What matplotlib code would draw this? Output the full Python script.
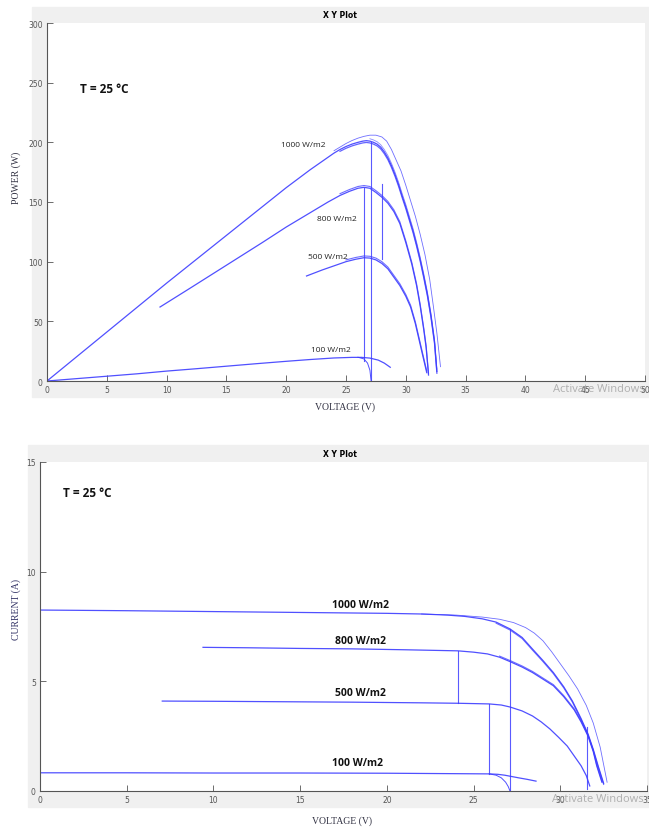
import matplotlib
matplotlib.use("Agg")
import matplotlib.pyplot as plt
import matplotlib.patches as patches

# ---- P-V data (voltage V, power W) ----
v_p1000 = [0, 5, 10, 15, 18, 20, 22, 24, 24.5, 25, 25.5, 26, 26.4, 26.7, 27.0, 27.3, 27.6, 27.9,
           28.2, 28.5, 28.8, 29.1, 29.4, 29.7, 30.0, 30.3, 30.6, 30.9, 31.2, 31.5, 31.8, 32.1, 32.4, 32.6]
p_p1000 = [0, 41, 82, 122, 146, 162, 177, 191, 194, 196.5, 198.5, 200, 201, 201.4, 201, 200, 198.5, 196,
           192, 187, 180.5, 173, 164.5, 155, 146, 136, 126, 114.5, 102, 88, 73, 55, 33, 8]
v_p1000_b = [24, 24.5, 25, 25.5, 26, 26.5, 27, 27.5, 28, 28.4, 28.8, 29.2, 29.6, 30.0, 30.4, 30.8,
             31.2, 31.6, 32.0, 32.3, 32.6, 32.9]
p_p1000_b = [193, 196, 199, 201.5, 203.5, 205, 206, 206, 204.5, 201, 194, 185, 176, 164, 151, 138,
             123, 106, 85, 63, 40, 12]
v_p800 = [9.45, 12, 15, 18, 20, 22, 23.5, 24.5, 25.3, 26, 26.5, 27, 27.5, 28, 28.5, 29, 29.5, 30,
          30.5, 30.9, 31.2, 31.5, 31.7, 31.9]
p_p800 = [62, 78, 97, 116, 129, 141, 150, 155.5, 159, 161.5, 162.3, 161.5, 158, 154, 149, 142, 132, 116,
          98, 80, 63, 43, 28, 5]
v_p500 = [21.7, 23, 24, 25, 25.8, 26.5, 27, 27.5, 28, 28.5, 29, 29.5, 30, 30.4, 30.8, 31.1, 31.4, 31.75]
p_p500 = [88, 93, 96.5, 100, 102, 103.3, 103, 101.5, 98.5, 94, 87, 80, 71, 62, 48, 35, 22, 7]
v_p100 = [0, 2.5, 5, 7.5, 10, 12.5, 15, 17.5, 20, 22, 24, 25.5, 26.3, 27, 27.7, 28.2, 28.7]
p_p100 = [0, 2, 4, 6, 8.3, 10.3, 12.4, 14.5, 16.5, 18, 19.3, 19.8, 19.8, 19.2, 17.5, 15, 11.5]
v_p100_b = [26.0, 26.5, 26.8, 27.0, 27.1]
p_p100_b = [19.9, 18.5, 15, 9, 0]
# vertical switching traces: (V, P_top, P_bottom)
p_jumps = [(27.1, 200, 0), (26.5, 162, 17), (28.0, 165, 102)]

# ---- I-V data (voltage V, current A) ----
v_i1000 = [0, 5, 10, 15, 20, 22, 23.5, 24.5, 25.5, 26.3, 27.1, 27.8, 28.4, 29.0, 29.6, 30.2, 30.7,
           31.2, 31.6, 31.9, 32.2, 32.5]
i_i1000 = [8.25, 8.22, 8.18, 8.14, 8.1, 8.07, 8.02, 7.96, 7.85, 7.7, 7.39, 7.0, 6.47, 5.95, 5.4, 4.75, 4.1,
           3.3, 2.6, 1.9, 1.1, 0.35]
v_i1000_b = [22, 24, 25.5, 26.5, 27.3, 28.0, 28.5, 29.0, 29.5, 30.0, 30.5, 31.0, 31.5, 31.9, 32.3, 32.7]
i_i1000_b = [8.07, 8.02, 7.93, 7.83, 7.68, 7.45, 7.2, 6.85, 6.35, 5.8, 5.25, 4.65, 3.9, 3.1, 2.0, 0.4]
v_i800 = [9.4, 12, 15, 18, 21, 24.1, 25, 25.8, 26.5, 27.1, 27.8, 28.4, 29.0, 29.6, 30.2, 30.8, 31.2,
          31.6, 31.9, 32.1, 32.4]
i_i800 = [6.55, 6.53, 6.5, 6.48, 6.44, 6.39, 6.33, 6.25, 6.1, 5.9, 5.65, 5.4, 5.1, 4.8, 4.3, 3.7, 3.15,
          2.5, 1.8, 1.15, 0.4]
v_i500 = [7.05, 10, 14, 18, 22, 24.1, 25.9, 26.6, 27.1, 27.8, 28.4, 28.9, 29.4, 29.9, 30.4, 30.8, 31.2,
          31.5, 31.7]
i_i500 = [4.1, 4.09, 4.07, 4.05, 4.02, 4.0, 3.97, 3.92, 3.83, 3.65, 3.42, 3.15, 2.83, 2.45, 2.05, 1.6, 1.15,
          0.7, 0.23]
v_i100 = [0, 5, 10, 15, 20, 24, 25.9, 26.4, 26.8, 27.2, 27.6, 28.1, 28.6]
i_i100 = [0.83, 0.83, 0.82, 0.82, 0.81, 0.79, 0.78, 0.76, 0.72, 0.66, 0.6, 0.53, 0.45]
v_i100_b = [25.9, 26.3, 26.6, 26.85, 27.0, 27.1]
i_i100_b = [0.78, 0.72, 0.6, 0.4, 0.2, 0.0]
i_jumps = [(27.1, 7.39, 0), (24.1, 6.39, 4.0), (25.9, 3.97, 0.78), (31.55, 2.9, 0.1)]

irradiance = ["1000 W/m2", "800 W/m2", "500 W/m2", "100 W/m2"]
p_label_pos = [(21.4, 198), (24.2, 136), (23.5, 104), (23.7, 26)]
i_label_pos = [(18.5, 8.5), (18.5, 6.85), (18.5, 4.5), (18.3, 1.3)]

BLUE = (0.24, 0.24, 1.0)
GRAY_BG = "#f0f0f0"
TXT = ["Open Sans", "DejaVu Sans"]

fig = plt.figure(figsize=(6.49, 8.28), dpi=100)
W, H = 649.0, 828.0


def fx(px):
    return px / W


def fy(py):
    return 1 - py / H


# grey panels behind the plots (MATLAB scope look)
for (x0, y0, x1, y1) in [(32, 8, 649, 398), (28, 446, 649, 808)]:
    fig.add_artist(patches.Rectangle((fx(x0), fy(y1)), fx(x1 - x0), (y1 - y0) / H,
                                     transform=fig.transFigure, color=GRAY_BG, zorder=0))

fig.text(fx(340), fy(15), "X Y Plot", ha="center", va="center", fontsize=5.5, fontweight="bold")
fig.text(fx(340), fy(455), "X Y Plot", ha="center", va="center", fontsize=5.5, fontweight="bold")

# axis titles placed in figure pixels
serif = dict(family="Liberation Serif", fontsize=7, color="#333344")
fig.text(fx(345), fy(407), "VOLTAGE (V)", ha="center", va="center", **serif)
fig.text(fx(342), fy(821), "VOLTAGE (V)", ha="center", va="center", **serif)
fig.text(fx(16), fy(178), "POWER (W)", ha="center", va="center", rotation=90, **serif)
fig.text(fx(16), fy(610), "CURRENT (A)", ha="center", va="center", rotation=90,
         family="Liberation Serif", fontsize=7, color="#333366")

ax1 = fig.add_axes([fx(47), fy(382), fx(645 - 47), (382 - 24) / H])
ax2 = fig.add_axes([fx(40), fy(792), fx(647 - 40), (792 - 463) / H])


def style(ax):
    for s in ["top", "right"]:
        ax.spines[s].set_visible(False)
    for s in ["left", "bottom"]:
        ax.spines[s].set_color("#555555")
        ax.spines[s].set_linewidth(0.8)
    ax.tick_params(direction="in", length=4, width=0.6, color="#555555",
                   labelsize=5.5, labelcolor="#555555", pad=3)
    ax.set_facecolor("white")


# ---- power plot ----
ax1.plot(v_p1000, p_p1000, color=BLUE, lw=0.9, alpha=0.9)
ax1.plot(v_p1000[8:], [p - 1.5 for p in p_p1000[8:]], color=BLUE, lw=0.9, alpha=0.8)
ax1.plot(v_p1000[14:], [p + 2 for p in p_p1000[14:]], color=BLUE, lw=0.6, alpha=0.6)
ax1.plot(v_p1000_b, p_p1000_b, color=BLUE, lw=0.6, alpha=0.75)
ax1.plot(v_p800, p_p800, color=BLUE, lw=0.9, alpha=0.9)
ax1.plot(v_p800[7:], [p + 1.5 for p in p_p800[7:]], color=BLUE, lw=0.8, alpha=0.75)
ax1.plot(v_p500, p_p500, color=BLUE, lw=0.9, alpha=0.9)
ax1.plot(v_p500[3:], [p + 1.5 for p in p_p500[3:]], color=BLUE, lw=0.8, alpha=0.75)
ax1.plot(v_p100, p_p100, color=BLUE, lw=0.9, alpha=0.9)
ax1.plot(v_p100_b, p_p100_b, color=BLUE, lw=0.7, alpha=0.9)
for v, top, bot in p_jumps:
    ax1.plot([v, v], [top, bot], color=BLUE, lw=0.8, alpha=0.85)

for lab, (x, y) in zip(irradiance, p_label_pos):
    ax1.text(x, y, lab, ha="center", va="center", fontsize=6, color="#222222", family=TXT)
ax1.text(2.8, 245, "T = 25 °C", ha="left", va="center", fontsize=8.5,
         fontweight="bold", color="#111111", family=TXT)

ax1.set_xlim(0, 50)
ax1.set_ylim(0, 300)
ax1.set_xticks(range(0, 51, 5))
ax1.set_yticks(range(0, 301, 50))
style(ax1)
ax1.text(1.0, -0.022, "Activate Windows", transform=ax1.transAxes, ha="right", va="center",
         fontsize=8, color="#a0a0a0", alpha=0.8, family=TXT)

# ---- current plot ----
ax2.plot(v_i1000, i_i1000, color=BLUE, lw=0.9, alpha=0.9)
ax2.plot(v_i1000[9:], [c - 0.05 for c in i_i1000[9:]], color=BLUE, lw=0.8, alpha=0.75)
ax2.plot(v_i1000_b, i_i1000_b, color=BLUE, lw=0.6, alpha=0.75)
ax2.plot(v_i800, i_i800, color=BLUE, lw=0.9, alpha=0.9)
ax2.plot(v_i800[8:], [c + 0.05 for c in i_i800[8:]], color=BLUE, lw=0.8, alpha=0.75)
ax2.plot(v_i500, i_i500, color=BLUE, lw=0.9, alpha=0.9)
ax2.plot(v_i100, i_i100, color=BLUE, lw=0.9, alpha=0.9)
ax2.plot(v_i100_b, i_i100_b, color=BLUE, lw=0.7, alpha=0.9)
for v, top, bot in i_jumps:
    ax2.plot([v, v], [top, bot], color=BLUE, lw=0.8, alpha=0.85)

for lab, (x, y) in zip(irradiance, i_label_pos):
    ax2.text(x, y, lab, ha="center", va="center", fontsize=7.5, fontweight="bold",
             color="#111111", family=TXT)
ax2.text(1.33, 13.6, "T = 25 °C", ha="left", va="center", fontsize=8.5,
         fontweight="bold", color="#111111", family=TXT)

ax2.set_xlim(0, 35)
ax2.set_ylim(0, 15)
ax2.set_xticks(range(0, 36, 5))
ax2.set_yticks(range(0, 16, 5))
style(ax2)
ax2.text(0.995, -0.024, "Activate Windows", transform=ax2.transAxes, ha="right", va="center",
         fontsize=8, color="#a0a0a0", alpha=0.8, family=TXT)

fig.savefig("out.png", dpi=100, facecolor="white")
